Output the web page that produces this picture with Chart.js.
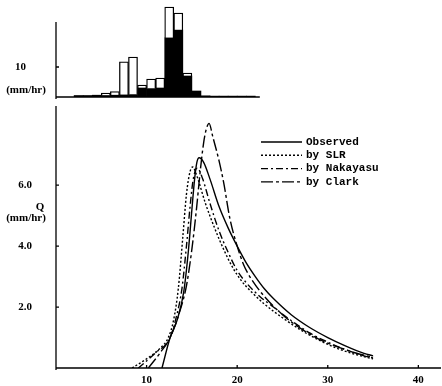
<!DOCTYPE html>
<html>
<head>
<meta charset="utf-8">
<script src="https://cdn.jsdelivr.net/npm/chart.js@4.4.1/dist/chart.umd.min.js"></script>
<style>
  html, body { margin: 0; padding: 0; background: #fff; }
  #rainBox { position: absolute; left: 0; top: 0; width: 442px; height: 102px; }
  #flowBox { position: absolute; left: 0; top: 100px; width: 442px; height: 286px; }
</style>
</head>
<body>
<div id="rainBox"><canvas id="rainChart"></canvas></div>
<div id="flowBox"><canvas id="flowChart"></canvas></div>
<script>
// rainfall (hyetograph), hour centres
const rainHour = [2.5, 3.5, 4.5, 5.5, 6.5, 7.5, 8.5, 9.5, 10.5, 11.5, 12.5, 13.5, 14.5, 15.5, 16.5, 17.5, 18.5, 19.5, 20.5, 21.5];
const rainTotal = [0.5, 0.5, 0.6, 1.3, 1.8, 11.7, 13.3, 4.0, 6.0, 6.3, 30.0, 28.0, 8.0, 2.0, 0.4, 0.3, 0.3, 0.3, 0.3, 0.3];
const rainEffective = [0.5, 0.5, 0.6, 0.5, 0.6, 0.7, 0.8, 3.0, 2.8, 3.0, 19.7, 22.3, 7.0, 2.0, 0.4, 0.3, 0.3, 0.3, 0.3, 0.3];
const rainTicks = [10];

// runoff hydrographs
const obsTime = [11.7, 12.6, 13.4, 14.1, 14.6, 15.0, 15.3, 15.55, 15.8, 16.3, 17, 18, 19, 20, 21, 22, 23, 24, 26, 28, 30, 32, 34, 35];
const obsQ = [0, 1.0, 1.6, 2.5, 3.8, 5.2, 6.2, 6.75, 6.9, 6.75, 6.2, 5.3, 4.6, 4.0, 3.45, 3.0, 2.6, 2.28, 1.74, 1.33, 1.0, 0.72, 0.48, 0.4];
const slrTime = [8.4, 10, 11.5, 12.4, 13.0, 13.5, 14.0, 14.4, 14.8, 15.1, 15.5, 16.5, 17.5, 18.5, 19.5, 20.5, 21.4, 23, 25, 27, 29, 31, 33, 35];
const slrQ = [0, 0.3, 0.65, 1.0, 1.6, 2.6, 4.3, 5.7, 6.45, 6.6, 6.35, 5.4, 4.6, 3.9, 3.3, 2.85, 2.55, 2.1, 1.65, 1.25, 0.92, 0.65, 0.45, 0.3];
const nakTime = [9.1, 11, 12.6, 13.3, 13.9, 14.4, 14.8, 15.1, 15.4, 15.6, 16.2, 17, 18, 19, 20, 21, 22.5, 24, 26, 28, 30, 32, 34, 35];
const nakQ = [0, 0.5, 1.0, 1.7, 2.6, 4.0, 5.3, 6.1, 6.5, 6.56, 6.2, 5.4, 4.5, 3.8, 3.2, 2.8, 2.35, 2.0, 1.55, 1.15, 0.85, 0.6, 0.4, 0.33];
const clarkTime = [10.2, 11.5, 12.6, 13.6, 14.4, 15.0, 15.5, 15.9, 16.3, 16.6, 16.9, 17.3, 18, 18.5, 19.2, 20, 20.7, 21.5, 23, 25, 27, 29, 31, 33, 35];
const clarkQ = [0, 0.5, 1.0, 1.8, 2.7, 3.9, 5.2, 6.4, 7.4, 7.85, 8.03, 7.6, 6.8, 6.1, 4.9, 4.0, 3.4, 2.95, 2.35, 1.75, 1.3, 0.95, 0.7, 0.5, 0.35];

const seriesNames = ["Observed", "by SLR", "by Nakayasu", "by Clark"];
const flowTicks = [2, 4, 6];
const timeTicks = [10, 20, 30, 40];

const tickFont = { family: "Liberation Serif", size: 11, weight: "bold" };
const legendFont = "bold 11px 'Liberation Mono'";

function toPoints(xs, ys) {
    return xs.map((x, i) => ({ x: x, y: ys[i] }));
}

// y axis: fixed width, and no extra top/bottom padding from tick padding
function fixYAxis(scale) {
    scale.width = 56;
    scale.paddingTop = 0;
    scale.paddingBottom = 0;
}

// axis lines, inward tick marks and side labels
function axisDecor(opts) {
    return {
        id: "axisDecor",
        afterDraw(chart) {
            const ctx = chart.ctx;
            const xs = chart.scales.x, ys = chart.scales.y;
            ctx.save();
            ctx.strokeStyle = "#000";
            ctx.lineWidth = 1.3;
            ctx.beginPath();
            ctx.moveTo(xs.left, ys.getPixelForValue(0));
            ctx.lineTo(xs.getPixelForValue(opts.xEnd), ys.getPixelForValue(0));
            ctx.moveTo(xs.left, ys.getPixelForValue(0) + 2);
            ctx.lineTo(xs.left, ys.getPixelForValue(opts.yEnd));
            opts.yTicks.forEach(v => {
                const p = ys.getPixelForValue(v);
                ctx.moveTo(xs.left, p);
                ctx.lineTo(xs.left + 3, p);
            });
            (opts.xTicks || []).forEach(v => {
                const p = xs.getPixelForValue(v);
                ctx.moveTo(p, ys.getPixelForValue(0));
                ctx.lineTo(p, ys.getPixelForValue(0) - 3);
            });
            ctx.stroke();
            ctx.fillStyle = "#000";
            ctx.font = "bold 11px 'Liberation Serif'";
            ctx.textAlign = "center";
            ctx.textBaseline = "middle";
            opts.labels.forEach(l => ctx.fillText(l.text, l.x, l.y));
            ctx.restore();
        }
    };
}

const legendPlugin = {
    id: "flowLegend",
    afterDraw(chart) {
        const ctx = chart.ctx;
        ctx.save();
        chart.data.datasets.forEach((ds, i) => {
            const y = 42 + i * 13.3;
            ctx.strokeStyle = "#000";
            ctx.lineWidth = 1.4;
            ctx.setLineDash(ds.borderDash || []);
            ctx.beginPath();
            ctx.moveTo(261, y);
            ctx.lineTo(302, y);
            ctx.stroke();
            ctx.setLineDash([]);
            ctx.fillStyle = "#000";
            ctx.font = legendFont;
            ctx.textAlign = "left";
            ctx.textBaseline = "middle";
            ctx.fillText(ds.label, 306, y);
        });
        ctx.restore();
    }
};

new Chart(document.getElementById("rainChart"), {
    type: "bar",
    data: {
        datasets: [
            {
                label: "effective",
                data: toPoints(rainHour, rainEffective),
                backgroundColor: "#000",
                borderColor: "#000",
                borderWidth: 0,
                barPercentage: 1,
                categoryPercentage: 1
            },
            {
                label: "loss",
                data: toPoints(rainHour, rainTotal.map((t, i) => t - rainEffective[i])),
                backgroundColor: "#fff",
                borderColor: "#000",
                borderWidth: 1.3,
                barPercentage: 1,
                categoryPercentage: 1
            }
        ]
    },
    options: {
        responsive: true,
        maintainAspectRatio: false,
        animation: false,
        layout: { padding: { top: 1, right: 1, bottom: 5, left: 0 } },
        plugins: { legend: { display: false }, tooltip: { enabled: false } },
        scales: {
            x: { type: "linear", min: 0, max: 42.5, stacked: true, offset: false, display: false },
            y: {
                stacked: true, min: 0, max: 32,
                afterFit: fixYAxis,
                grid: { display: false },
                border: { display: false },
                ticks: {
                    stepSize: 10, padding: 22, color: "#000", font: tickFont,
                    callback: v => rainTicks.includes(v) ? String(v) : ""
                }
            }
        }
    },
    plugins: [axisDecor({ xEnd: 22.5, yEnd: 25, yTicks: rainTicks, labels: [{ text: "(mm/hr)", x: 26, y: 90 }] })]
});

const lineBase = { borderColor: "#000", borderWidth: 1.4, pointRadius: 0, fill: false, cubicInterpolationMode: "monotone" };

new Chart(document.getElementById("flowChart"), {
    type: "line",
    data: {
        datasets: [
            Object.assign({ label: seriesNames[0], data: toPoints(obsTime, obsQ), borderDash: [] }, lineBase),
            Object.assign({ label: seriesNames[1], data: toPoints(slrTime, slrQ), borderDash: [2, 2] }, lineBase),
            Object.assign({ label: seriesNames[2], data: toPoints(nakTime, nakQ), borderDash: [7, 3, 2, 3] }, lineBase),
            Object.assign({ label: seriesNames[3], data: toPoints(clarkTime, clarkQ), borderDash: [12, 3, 3, 3] }, lineBase)
        ]
    },
    options: {
        responsive: true,
        maintainAspectRatio: false,
        animation: false,
        layout: { padding: { top: 6, right: 1, bottom: 0, left: 0 } },
        plugins: { legend: { display: false }, tooltip: { enabled: false } },
        scales: {
            x: {
                type: "linear", min: 0, max: 42.5,
                afterFit(scale) { scale.height = 18; },
                grid: { display: false },
                border: { display: false },
                afterBuildTicks(scale) { scale.ticks = timeTicks.map(v => ({ value: v })); },
                ticks: { padding: -2, color: "#000", font: tickFont, maxRotation: 0, autoSkip: false }
            },
            y: {
                min: 0, max: 8.6,
                afterFit: fixYAxis,
                grid: { display: false },
                border: { display: false },
                afterBuildTicks(scale) { scale.ticks = flowTicks.map(v => ({ value: v })); },
                ticks: { padding: 16, color: "#000", font: tickFont, callback: v => v.toFixed(1) }
            }
        }
    },
    plugins: [
        axisDecor({
            xEnd: 42.5, yEnd: 8.6, yTicks: flowTicks, xTicks: timeTicks,
            labels: [{ text: "Q", x: 40, y: 107 }, { text: "(mm/hr)", x: 26, y: 118 }]
        }),
        legendPlugin
    ]
});
</script>
</body>
</html>
